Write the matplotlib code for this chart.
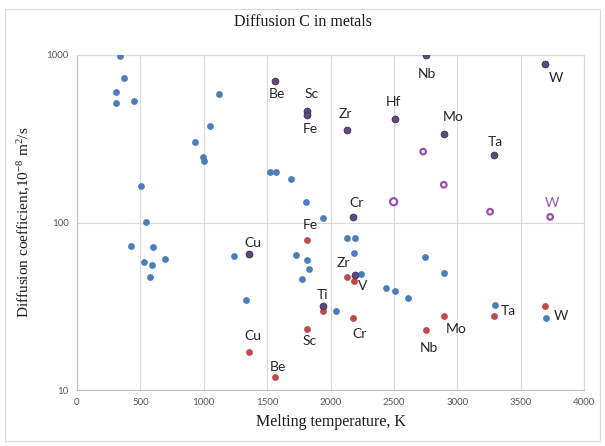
import matplotlib
matplotlib.use("Agg")
import matplotlib.pyplot as plt
from matplotlib.patches import Rectangle
from matplotlib.ticker import FixedLocator, NullLocator

serif = "Liberation Serif"
plt.rcParams["mathtext.fontset"] = "custom"
plt.rcParams["mathtext.rm"] = serif
plt.rcParams["mathtext.it"] = serif + ":italic"
plt.rcParams["axes.unicode_minus"] = False

# other metals (unlabelled)
other_tm = [339, 371, 310, 305, 452, 1122, 1051, 928, 994, 1002, 502, 1520, 1567,
            1690, 1804, 547, 1942, 426, 602, 526, 594, 696, 576, 1236, 1356, 1335,
            1727, 1811, 1832, 1772, 2127, 2190, 2182, 2240, 2435, 2508, 2610, 2744,
            2892, 2040, 3297, 3701]
other_d = [990, 727, 598, 519, 533, 582, 375, 301, 245, 232, 166, 201, 201,
           181, 132, 101, 106, 72, 71, 57.8, 56, 60.8, 47.5, 63.4, 65, 34.4,
           64, 59.5, 52.7, 45.8, 80.7, 80.7, 65.8, 49.4, 40.6, 39.2, 35.3, 62.2,
           50.1, 29.7, 32.3, 26.9]

# dark purple series
dark_names = ["Be", "Sc", "Fe", "Zr", "Hf", "Nb", "Mo", "Ta", "W", "Cr", "Cu", "V", "Ti"]
dark_tm = [1560, 1814, 1811, 2128, 2506, 2750, 2896, 3290, 3695, 2180, 1358, 2190, 1941]
dark_d = [700, 460, 440, 357, 415, 995, 337, 253, 884, 108, 65, 48.8, 31.9]

# red series
red_names = ["Fe", "Sc", "Cu", "Be", "Zr", "V", "Ti", "Cr", "Nb", "Mo", "Ta", "W"]
red_tm = [1811, 1814, 1358, 1560, 2127, 2183, 1941, 2180, 2750, 2896, 3290, 3695]
red_d = [79, 23.1, 16.8, 11.9, 47.5, 44.6, 29.7, 26.9, 22.7, 27.5, 27.5, 31.9]

# open purple series
open_names = ["", "", "", "", "W"]
open_tm = [2731, 2894, 2498, 3259, 3733]
open_d = [265, 168, 133, 116, 108]

# label offsets in pixels (dx, dy)
dark_offsets = {
    "Be": (2, -13), "Sc": (5, 17), "Fe": (4, -14), "Zr": (-1, 16), "Hf": (-1, 17),
    "Nb": (1, -19), "Mo": (9, 17), "Ta": (1, 13), "W": (11, -14), "Cr": (3, 14),
    "Cu": (4, 11), "Ti": (0, 11),
}
red_offsets = {
    "Fe": (4, 15), "Sc": (3, -12), "Cu": (4, 16), "Be": (3, 10), "Zr": (-3, 14),
    "V": (9, -5), "Cr": (6, -16), "Nb": (3, -18), "Mo": (12, -13),
    "Ta": (14, 5), "W": (16, -10),
}
open_offsets = {"W": (2, 14)}

BLUE = "#4a7ebb"
RED = "#be4b48"
DARK = "#5f4a7c"
MAGENTA = "#9a4fb0"
LABEL_FONT = ["Lato", "DejaVu Sans"]

fig = plt.figure(figsize=(6.05, 4.46), dpi=100)
fig.patches.append(Rectangle((5 / 605, 1 - 441 / 446), 595 / 605, 432 / 446,
                             transform=fig.transFigure, fill=False,
                             edgecolor="#d9d9d9", linewidth=0.8))
ax = fig.add_axes([77 / 605, 1 - 390 / 446, 507 / 605, 335 / 446])

ax.scatter(other_tm, other_d, s=24, color=BLUE, zorder=3, linewidths=0)
ax.scatter(red_tm, red_d, s=24, color=RED, zorder=4, linewidths=0)
ax.scatter(dark_tm, dark_d, s=24, color=DARK, edgecolors="#3d2d55",
           linewidths=0.6, zorder=5)
open_sizes = [16, 16, 26, 16, 16]
ax.scatter(open_tm, open_d, s=open_sizes, facecolors="white", edgecolors=MAGENTA,
           linewidths=1.6, zorder=5)

for name, t, d in zip(dark_names, dark_tm, dark_d):
    if name in dark_offsets:
        ax.annotate(name, (t, d), xytext=dark_offsets[name], textcoords="offset pixels",
                    ha="center", va="center", fontsize=10, color="#262626",
                    family=LABEL_FONT, zorder=6)
for name, t, d in zip(red_names, red_tm, red_d):
    if name in red_offsets:
        ax.annotate(name, (t, d), xytext=red_offsets[name], textcoords="offset pixels",
                    ha="center", va="center", fontsize=10, color="#262626",
                    family=LABEL_FONT, zorder=6)
for name, t, d in zip(open_names, open_tm, open_d):
    if name in open_offsets:
        ax.annotate(name, (t, d), xytext=open_offsets[name], textcoords="offset pixels",
                    ha="center", va="center", fontsize=10, color=MAGENTA,
                    family=LABEL_FONT, zorder=6)

ax.set_yscale("log")
ax.set_xlim(0, 4000)
ax.set_ylim(10, 1000)
ax.xaxis.set_major_locator(FixedLocator(range(0, 4001, 500)))
ax.yaxis.set_major_locator(FixedLocator([10, 100, 1000]))
ax.yaxis.set_minor_locator(NullLocator())
ax.set_yticklabels(["10", "100", "1000"])
ax.grid(True, color="#d9d9d9", linewidth=0.8, zorder=0)
ax.set_axisbelow(True)
for side in ["top", "right"]:
    ax.spines[side].set_color("#d9d9d9")
for side in ["left", "bottom"]:
    ax.spines[side].set_color("#bfbfbf")
ax.tick_params(length=0, labelsize=7, labelcolor="#595959", pad=6)
for lbl in ax.get_xticklabels() + ax.get_yticklabels():
    lbl.set_family(LABEL_FONT)

ax.set_xlabel("Melting temperature, K", family=serif, fontsize=11.5,
              color="#1a1a1a", labelpad=5)
ax.set_ylabel("Diffusion coefficient,10$^{-8}$ m$^{2}$/s", family=serif,
              fontsize=11, color="#1a1a1a", labelpad=10)
fig.text(0.5, 1 - 22 / 446, "Diffusion C in metals", family=serif, fontsize=11.5,
         color="#1a1a1a", ha="center", va="center")

fig.savefig("out.png", dpi=100)
